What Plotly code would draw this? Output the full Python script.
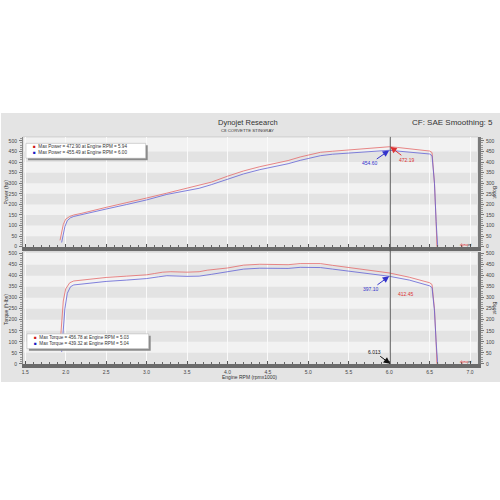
import plotly.graph_objects as go

# ---------------- data ----------------
rpm_pow_red = [1.93, 1.95, 1.97, 2.0, 2.05, 2.1, 2.2, 2.5, 2.75, 3.0, 3.25, 3.5, 3.65, 3.8, 4.0, 4.2, 4.4, 4.6,
               4.75, 4.9, 5.03, 5.15, 5.3, 5.5, 5.75, 5.94, 6.0, 6.1, 6.25, 6.4, 6.5, 6.53, 6.56, 6.58, 6.59]
pow_red = [30, 68, 105, 130, 143, 150, 158, 186, 207, 230, 253, 277, 288, 305, 333, 358, 378, 394,
           407, 424, 437, 446, 451, 457, 466, 472.9, 472.2, 469, 462, 456, 452, 445, 300, 120, 0]

rpm_pow_blue = [1.95, 1.97, 1.99, 2.02, 2.06, 2.1, 2.2, 2.5, 2.75, 3.0, 3.25, 3.5, 3.65, 3.8, 4.0, 4.2, 4.4, 4.6,
                4.75, 4.9, 5.04, 5.15, 5.3, 5.5, 5.75, 6.0, 6.1, 6.25, 6.4, 6.5, 6.53, 6.56, 6.58, 6.6]
pow_blue = [20, 55, 95, 123, 137, 143, 151, 178, 199, 221, 247, 264, 276, 293, 318, 344, 364, 378,
            392, 408, 421, 430, 437, 441, 449, 455.5, 452, 448, 442, 438, 430, 300, 120, 0]

rpm_tq_red = [1.93, 1.95, 1.97, 2.0, 2.05, 2.1, 2.2, 2.5, 2.75, 3.0, 3.1, 3.2, 3.3, 3.5, 3.65, 3.75, 4.0, 4.2,
              4.4, 4.6, 4.75, 4.9, 5.03, 5.15, 5.3, 5.5, 5.75, 6.0, 6.25, 6.5, 6.53, 6.56, 6.58, 6.59]
tq_red = [82, 190, 285, 340, 368, 376, 380, 392, 398, 404, 410, 416, 418, 416, 418, 425, 435, 448,
          452, 450, 450, 455, 456.8, 455, 447, 437, 425, 412.5, 393, 368, 360, 250, 100, 0]

rpm_tq_blue = [1.95, 1.97, 1.99, 2.02, 2.06, 2.1, 2.2, 2.5, 2.75, 3.0, 3.15, 3.25, 3.5, 3.65, 3.8, 4.0, 4.2,
               4.4, 4.6, 4.75, 4.9, 5.04, 5.15, 5.3, 5.5, 5.75, 6.0, 6.25, 6.5, 6.53, 6.56, 6.58, 6.6]
tq_blue = [54, 150, 250, 320, 350, 358, 362, 374, 380, 387, 395, 400, 397, 398, 406, 418, 430,
           434, 432, 433, 438, 439.3, 437, 430, 421, 410, 397.5, 380, 354, 346, 240, 100, 0]

x_ticks = [1.5, 2.0, 2.5, 3.0, 3.5, 4.0, 4.5, 5.0, 5.5, 6.0, 6.5, 7.0]
y_ticks = [0, 50, 100, 150, 200, 250, 300, 350, 400, 450, 500]

legend_power = ["Max Power = 472.90 at Engine RPM = 5.94", "Max Power = 455.49 at Engine RPM = 6.00"]
legend_torque = ["Max Torque = 456.78 at Engine RPM = 5.03", "Max Torque = 439.32 at Engine RPM = 5.04"]
cursor_rpm = 6.013
cursor_power = [472.19, 454.60]
cursor_torque = [412.45, 397.10]

# ---------------- styling ----------------
RED = "#e46a6a"
BLUE = "#6262d6"
FONT = "Liberation Sans"
W, H = 500, 500

def py(p):  # pixel y -> paper
    return 1 - p / H

def px(p):
    return p / W

X_RANGE = [1.4716, 7.0987]
TOP_DOM = [py(247), py(136)]
BOT_DOM = [py(365), py(252)]
TOP_RANGE = [-1.4, 518.7]
BOT_RANGE = [-1.35, 507.7]

fig = go.Figure()
fig.add_trace(go.Scatter(x=rpm_pow_red, y=pow_red, mode="lines", line=dict(color=RED, width=0.8),
                         xaxis="x", yaxis="y", showlegend=False))
fig.add_trace(go.Scatter(x=rpm_pow_blue, y=pow_blue, mode="lines", line=dict(color=BLUE, width=0.8),
                         xaxis="x", yaxis="y", showlegend=False))
fig.add_trace(go.Scatter(x=rpm_tq_red, y=tq_red, mode="lines", line=dict(color=RED, width=0.8),
                         xaxis="x2", yaxis="y2", showlegend=False))
fig.add_trace(go.Scatter(x=rpm_tq_blue, y=tq_blue, mode="lines", line=dict(color=BLUE, width=0.8),
                         xaxis="x2", yaxis="y2", showlegend=False))
# invisible traces for right-hand Boost axes
fig.add_trace(go.Scatter(x=[2], y=[0], mode="markers", marker=dict(opacity=0), xaxis="x", yaxis="y3",
                         showlegend=False, hoverinfo="skip"))
fig.add_trace(go.Scatter(x=[2], y=[0], mode="markers", marker=dict(opacity=0), xaxis="x2", yaxis="y4",
                         showlegend=False, hoverinfo="skip"))

tickfont = dict(family=FONT, size=5, color="#444")

def xax(domain_anchor, labels):
    return dict(domain=[px(22), px(478)], range=X_RANGE, anchor=domain_anchor, showgrid=True,
                gridcolor="#fafafa", gridwidth=1, tickvals=x_ticks, tickformat=".1f",
                showticklabels=labels, tickfont=tickfont, ticks="inside", ticklen=3, tickcolor="#555",
                minor=dict(dtick=0.1, ticks="inside", ticklen=2, tickcolor="#666", showgrid=False),
                showline=True, linecolor="#6b6b6b", linewidth=4, zeroline=False, fixedrange=True)

def yax(domain, rng, side="left", overlay=None, anchor="x"):
    d = dict(domain=domain, range=rng, anchor=anchor, side=side, tickvals=y_ticks, tickfont=tickfont,
             showgrid=False, zeroline=False, ticks="outside", ticklen=3, tickcolor="#777",
             minor=dict(dtick=10, ticks="outside", ticklen=1.5, tickcolor="#999"),
             showline=True, linecolor="#888" if side == "left" else "#7a7a7a",
             linewidth=1 if side == "left" else 3, ticklabelstandoff=1, fixedrange=True)
    if overlay:
        d["overlaying"] = overlay
    return d

fig.update_layout(
    width=W, height=H, margin=dict(l=0, r=0, t=0, b=0),
    paper_bgcolor="white", plot_bgcolor="#f1f1f1",
    xaxis=xax("y", False),
    xaxis2=xax("y2", True),
    yaxis=yax(TOP_DOM, TOP_RANGE),
    yaxis2=yax(BOT_DOM, BOT_RANGE, anchor="x2"),
    yaxis3=yax(TOP_DOM, TOP_RANGE, side="right", overlay="y", anchor="x"),
    yaxis4=yax(BOT_DOM, BOT_RANGE, side="right", overlay="y2", anchor="x2"),
    showlegend=False, hovermode=False,
)

shapes = []
# gray panel background
shapes.append(dict(type="rect", xref="paper", yref="paper", x0=0, x1=1, y0=py(383), y1=py(112),
                   fillcolor="#e4e4e4", line=dict(width=0), layer="below"))
# plot-area backgrounds
for dom in (TOP_DOM, BOT_DOM):
    shapes.append(dict(type="rect", xref="paper", yref="paper", x0=px(22), x1=px(478), y0=dom[0], y1=dom[1],
                       fillcolor="#f2f2f2", line=dict(color="#cfcfcf", width=1), layer="below"))
# alternating bands
for yref, xref in (("y", "x"), ("y2", "x2")):
    for lo in range(0, 500, 100):
        shapes.append(dict(type="rect", xref=xref + " domain", yref=yref, x0=0, x1=1, y0=lo, y1=lo + 50,
                           fillcolor="#e3e3e3", line=dict(width=0), layer="below"))
# cursor line
shapes.append(dict(type="line", xref="x", yref="paper", x0=cursor_rpm, x1=cursor_rpm,
                   y0=BOT_DOM[0], y1=TOP_DOM[1], line=dict(color="#555", width=1)))
# legend boxes (shadow + box)
for (x0, y0, x1, y1) in ((25, 142.5, 145, 157.5), (26, 334.5, 148, 349.5)):
    shapes.append(dict(type="rect", xref="paper", yref="paper", x0=px(x0 + 2), x1=px(x1 + 2),
                       y0=py(y1 + 2), y1=py(y0 + 2), fillcolor="#8a8a8a", line=dict(width=0)))
    shapes.append(dict(type="rect", xref="paper", yref="paper", x0=px(x0), x1=px(x1),
                       y0=py(y1), y1=py(y0), fillcolor="white", line=dict(color="#aaa", width=0.5)))
fig.update_layout(shapes=shapes)

ann = []
def text(x, y, s, size, color="#333", angle=0, xanchor="center", family=FONT, italic=False):
    ann.append(dict(xref="paper", yref="paper", x=px(x), y=py(y), text=s, showarrow=False,
                    font=dict(family=family, size=size, color=color, style="italic" if italic else "normal"),
                    textangle=angle, xanchor=xanchor, yanchor="middle"))

text(247, 121.7, "Dynojet Research", 7.5, "#333")
text(247, 129.7, "C8 CORVETTE STINGRAY", 4.3, "#333")
text(495, 121.7, "CF: SAE Smoothing: 5", 8, "#333", xanchor="right")
text(4.5, 191.5, "Power (hp)", 5, "#333", angle=-90)
text(4.5, 310, "Torque (ft-lbs)", 5, "#333", angle=-90)
text(495, 191.5, "Boost", 5, "#333", angle=90)
text(495, 308, "Boost", 5, "#333", angle=90)
text(248.5, 378.5, "Engine RPM (rpmx1000)", 5, "#333")
text(466, 245, "<span style='color:#d22'>dyno</span>jet", 3.5, "#222", italic=True)
text(466, 363, "<span style='color:#d22'>dyno</span>jet", 3.5, "#222", italic=True)

for i, (lines, (lx, ly)) in enumerate(((legend_power, (30, 146)), (legend_torque, (31, 338.5)))):
    for j, s in enumerate(lines):
        col = "#d01818" if j == 0 else "#1818c0"
        text(lx, ly + j * 6.2, f"<span style='color:{col}'>■</span>  {s}", 4.6, "#333", xanchor="left")

def arrow(x, y, xr, yr, s, color, ax, ay):
    ann.append(dict(xref=xr, yref=yr, x=x, y=y, text=s, showarrow=True, arrowhead=2, arrowsize=1.3,
                    arrowwidth=1, arrowcolor=color, ax=ax, ay=ay,
                    font=dict(family=FONT, size=5, color=color)))

arrow(6.0, cursor_power[1], "x", "y", f"{cursor_power[1]:.2f}", "#3333cc", -19, 13)
arrow(cursor_rpm, cursor_power[0], "x", "y", f"{cursor_power[0]:.2f}", "#dd3333", 17, 13)
arrow(6.0, cursor_torque[1], "x2", "y2", f"{cursor_torque[1]:.2f}", "#3333cc", -18, 13)
arrow(cursor_rpm, cursor_torque[0], "x2", "y2", f"{cursor_torque[0]:.2f}", "#dd3333", 16, 21)
arrow(cursor_rpm, 0, "x2", "y2", f"{cursor_rpm:.3f}", "#111", -16, -12)

fig.update_layout(annotations=ann)
fig.write_html("out.html", config={"displayModeBar": False, "staticPlot": True},
               post_script="document.body.style.margin='0';document.body.style.overflow='hidden';")
